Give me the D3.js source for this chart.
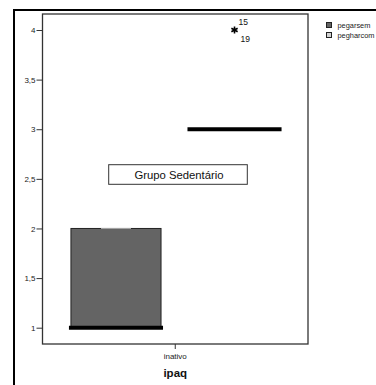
<!DOCTYPE html>
<html>
<head>
<meta charset="utf-8">
<script src="https://cdn.jsdelivr.net/npm/d3@7"></script>
<style>
  html, body { margin: 0; padding: 0; background: #fff; }
  svg { display: block; font-family: "Liberation Sans", Arial, sans-serif; }
</style>
</head>
<body>
<svg id="chart" width="376" height="385"></svg>
<script>
// Box plot data for the "inativo" category of ipaq
const categories = ["inativo"];
const seriesNames = ["pegarsem", "pegharcom"];
const whiskerLow = [1, 3];
const q1Values = [1, 3];
const medianValues = [1, 3];
const q3Values = [2, 3];
const whiskerHigh = [2, 3];
const outlierValues = [[], [4]];
const outlierIds = [[], ["15", "19"]];
const yTicks = [1, 1.5, 2, 2.5, 3, 3.5, 4];
const seriesColors = ["#646464", "#d2d2d2"];
const annotation = "Grupo Sedentário";
const xTitle = "ipaq";

const svg = d3.select("#chart");

// plot frame
const frame = { left: 42.5, right: 308, top: 14, bottom: 344 };

// outer border (top and left)
svg.append("line").attr("x1", 13).attr("x2", 376).attr("y1", 10).attr("y2", 10)
  .attr("stroke", "#000").attr("stroke-width", 2);
svg.append("line").attr("x1", 14).attr("x2", 14).attr("y1", 9).attr("y2", 385)
  .attr("stroke", "#000").attr("stroke-width", 2);

const y = d3.scaleLinear().domain([1, 4]).range([327.7, 30]);

const x0 = d3.scaleBand().domain(categories).range([frame.left, frame.right]).padding(0);
const x1 = d3.scaleBand().domain(seriesNames)
  .range([x0(categories[0]), x0(categories[0]) + x0.bandwidth()])
  .paddingInner(0.24).paddingOuter(0.24);

// frame
svg.append("rect")
  .attr("x", frame.left).attr("y", frame.top)
  .attr("width", frame.right - frame.left).attr("height", frame.bottom - frame.top)
  .attr("fill", "#fff").attr("stroke", "#333").attr("stroke-width", 1.3);

// y axis
const yAxis = d3.axisLeft(y).tickValues(yTicks).tickSize(6).tickPadding(1)
  .tickFormat(d => String(d).replace(".", ","));
const gy = svg.append("g").attr("transform", `translate(${frame.left},0)`).call(yAxis);
gy.select(".domain").remove();
gy.selectAll(".tick line").attr("stroke", "#333");
gy.selectAll(".tick text").attr("font-size", 8).attr("fill", "#222")
  .attr("font-family", "Liberation Sans, Arial, sans-serif");

// x axis
const xAxis = d3.axisBottom(x0).tickSize(5).tickPadding(4);
const gx = svg.append("g").attr("transform", `translate(0,${frame.bottom})`).call(xAxis);
gx.select(".domain").remove();
gx.selectAll(".tick line").attr("stroke", "#333");
gx.selectAll(".tick text").attr("font-size", 8).attr("fill", "#222")
  .attr("font-family", "Liberation Sans, Arial, sans-serif");

svg.append("text").attr("x", x0(categories[0]) + x0.bandwidth() / 2).attr("y", 377)
  .attr("text-anchor", "middle").attr("font-size", 11.5).attr("font-weight", "bold")
  .attr("fill", "#111").text(xTitle);

// annotation box
const ann = svg.append("g");
ann.append("rect").attr("x", 108.7).attr("y", 164.7).attr("width", 138.6).attr("height", 19.6)
  .attr("fill", "#fff").attr("stroke", "#333").attr("stroke-width", 1);
ann.append("text").attr("x", 179).attr("y", 178.5).attr("text-anchor", "middle")
  .attr("font-size", 11.3).attr("fill", "#111").text(annotation);

// boxes
seriesNames.forEach((name, i) => {
  const bx = x1(name), bw = x1.bandwidth(), cx = bx + bw / 2;
  const g = svg.append("g");
  // whiskers
  if (whiskerHigh[i] > q3Values[i]) {
    g.append("line").attr("x1", cx).attr("x2", cx).attr("y1", y(q3Values[i])).attr("y2", y(whiskerHigh[i])).attr("stroke", "#333");
  }
  if (whiskerLow[i] < q1Values[i]) {
    g.append("line").attr("x1", cx).attr("x2", cx).attr("y1", y(q1Values[i])).attr("y2", y(whiskerLow[i])).attr("stroke", "#333");
  }
  if (q3Values[i] > q1Values[i]) {
    g.append("rect").attr("x", bx).attr("y", y(q3Values[i]))
      .attr("width", bw).attr("height", y(q1Values[i]) - y(q3Values[i]))
      .attr("fill", seriesColors[i]).attr("stroke", "#222").attr("stroke-width", 1);
  }
  // whisker caps
  [whiskerLow[i], whiskerHigh[i]].forEach(v => {
    g.append("line").attr("x1", cx - bw / 6).attr("x2", cx + bw / 6)
      .attr("y1", y(v)).attr("y2", y(v)).attr("stroke", "#aaa").attr("stroke-width", 1);
  });
  // median
  g.append("line").attr("x1", bx - 2).attr("x2", bx + bw + 2)
    .attr("y1", y(medianValues[i])).attr("y2", y(medianValues[i]))
    .attr("stroke", "#000").attr("stroke-width", 4);
  // extreme values
  outlierValues[i].forEach(v => {
    g.append("path").attr("d", d3.symbol(d3.symbolAsterisk, 36)())
      .attr("transform", `translate(${cx},${y(v)})`)
      .attr("stroke", "#000").attr("stroke-width", 1.6).attr("fill", "none");
    g.append("text").attr("x", cx + 4).attr("y", y(v) - 5).attr("font-size", 8.5)
      .attr("fill", "#111").text(outlierIds[i][0]);
    g.append("text").attr("x", cx + 6).attr("y", y(v) + 12).attr("font-size", 8.5)
      .attr("fill", "#111").text(outlierIds[i][1]);
  });
});

// legend
const leg = svg.append("g");
seriesNames.forEach((name, i) => {
  leg.append("rect").attr("x", 326.5).attr("y", 22.5 + i * 10).attr("width", 5).attr("height", 5)
    .attr("fill", seriesColors[i]).attr("stroke", "#222").attr("stroke-width", 1);
  leg.append("text").attr("x", 337.5).attr("y", 27.5 + i * 10).attr("font-size", 7.4)
    .attr("fill", "#222").text(name);
});
</script>
</body>
</html>
